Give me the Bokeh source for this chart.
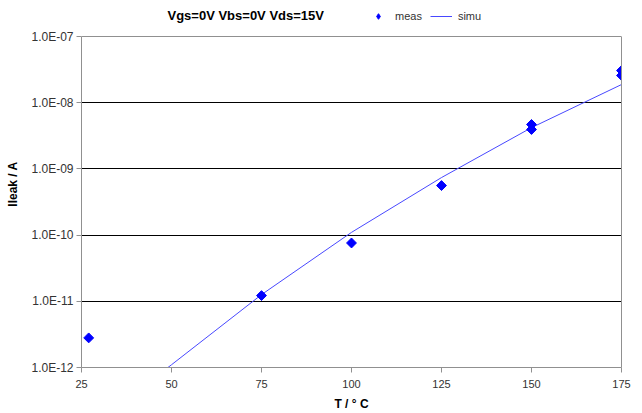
import math
from bokeh.plotting import figure
from bokeh.models import (Range1d, FixedTicker, CustomJSTickFormatter, Legend, LegendItem,
                          LogAxis, Span, Label)
from bokeh.embed import file_html
from bokeh.resources import INLINE

title_text = "Vgs=0V Vbs=0V Vds=15V"
x_label = "T / ° C"
y_label = "Ileak / A"

x_ticks = [25, 50, 75, 100, 125, 150, 175]
y_ticks = [1e-12, 1e-11, 1e-10, 1e-9, 1e-8, 1e-7]

meas_T = [27, 75, 100, 125, 150, 150, 175, 175]
meas_I = [2.8e-12, 1.22e-11, 7.6e-11, 5.6e-10, 3.94e-9, 4.69e-9, 2.58e-8, 3.06e-8]

simu_T = [25, 50, 75, 100, 125, 150, 175]
simu_I = [1.0e-13, 1.1e-12, 1.26e-11, 1.1e-10, 7.4e-10, 4.2e-9, 1.88e-8]

FONT = "Liberation Sans"

# layout geometry (pixels)
W, H = 642, 413
LEFT, RIGHT, BOTTOM = 81, 21, 46
PLOT_TOP = 36            # where the 1E-07 line sits
frame_h = H - BOTTOM     # frame reaches the top of the canvas
decade_px = (frame_h - PLOT_TOP) / (len(y_ticks) - 1)
y_lo = min(y_ticks)
y_hi = max(y_ticks)
y_top = 10 ** (math.log10(y_hi) + PLOT_TOP / decade_px)
x_lo, x_hi = min(x_ticks), max(x_ticks)

p = figure(width=W, height=H, output_backend="svg", toolbar_location=None,
           y_axis_type="log",
           x_range=Range1d(x_lo, x_hi), y_range=Range1d(y_lo, y_top),
           min_border_left=LEFT, min_border_right=RIGHT, min_border_top=0,
           min_border_bottom=BOTTOM)
p.title.visible = False

p.outline_line_color = None
p.background_fill_color = "white"
p.border_fill_color = "white"

p.xgrid.visible = False
p.ygrid.grid_line_color = "black"
p.ygrid.grid_line_width = 1
p.ygrid.ticker = FixedTicker(ticks=y_ticks[1:-1])

p.xaxis.ticker = FixedTicker(ticks=x_ticks)
p.yaxis.ticker = FixedTicker(ticks=y_ticks)
p.yaxis.bounds = (y_lo, y_hi)
p.yaxis.formatter = CustomJSTickFormatter(code="""
const s = tick.toExponential(1);
const parts = s.split('e');
const e = parts[1];
const sign = e[0];
const d = e.slice(1).padStart(2, '0');
return parts[0] + 'E' + sign + d;
""")

GRAY = "#909090"
for ax in (p.xaxis[0], p.yaxis[0]):
    ax.axis_line_color = GRAY
    ax.major_tick_line_color = GRAY
    ax.major_tick_out = 5
    ax.major_tick_in = 0
    ax.minor_tick_line_color = None
    ax.major_label_text_font = FONT
    ax.major_label_text_color = "#333333"
    ax.axis_label_text_font = FONT
    ax.axis_label_text_font_size = "12px"
    ax.axis_label_text_font_style = "bold"
    ax.axis_label_text_color = "black"

p.xaxis.major_label_text_font_size = "11px"
p.yaxis.major_label_text_font_size = "12px"
p.xaxis.axis_label = x_label
p.yaxis.axis_label = y_label
p.xaxis.major_label_standoff = 7
p.xaxis.axis_label_standoff = 6
p.yaxis.major_label_standoff = 3
p.yaxis.axis_label_standoff = 8

# right border of the plot area
right_axis = LogAxis(bounds=(y_lo, y_hi), ticker=FixedTicker(ticks=[]),
                     axis_line_color=GRAY, major_tick_line_color=None,
                     minor_tick_line_color=None, major_label_text_font_size="0px")
p.add_layout(right_axis, "right")
# top border of the plot area
p.add_layout(Span(location=y_hi, dimension="width", line_color=GRAY, line_width=1))

simu = p.line(simu_T, simu_I, line_color="#4848ff", line_width=1)
meas = p.scatter(meas_T, meas_I, marker="square", angle=math.pi / 4, size=7,
                 fill_color="#0000ff", line_color="#0000ff")
# legend swatch for the measured points (legend glyphs ignore the marker angle);
# a single NaN row so that nothing is drawn in the plot itself
meas_key = p.scatter(x=[float("nan")], y=[float("nan")], marker="diamond", size=9,
                     fill_color="#0000ff", line_color="#0000ff")

# title
title_x = x_lo + 86 / (W - LEFT - RIGHT) * (x_hi - x_lo)
title_y = 10 ** (math.log10(y_hi) + (PLOT_TOP - 15) / decade_px)
p.add_layout(Label(x=title_x, y=title_y, text=title_text, text_font=FONT,
                   text_font_size="13px", text_font_style="bold", text_color="black",
                   text_baseline="middle", text_align="left"))

legend = Legend(items=[LegendItem(label="meas", renderers=[meas_key]),
                       LegendItem(label="simu", renderers=[simu])],
                orientation="horizontal", location=(286, frame_h - 23),
                border_line_alpha=0, background_fill_alpha=0,
                label_text_font=FONT, label_text_font_size="11px",
                label_text_color="#333333",
                glyph_width=22, glyph_height=14, label_height=14,
                spacing=8, padding=0, margin=0, label_standoff=6)
p.add_layout(legend)

open("out.html", "w").write(file_html(p, INLINE))
